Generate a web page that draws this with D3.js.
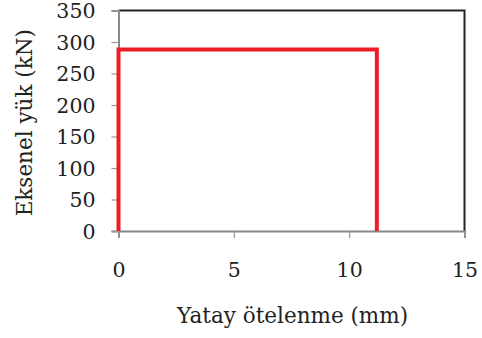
<!DOCTYPE html>
<html>
<head>
<meta charset="utf-8">
<script src="https://cdn.jsdelivr.net/npm/d3@7"></script>
<style>
  body { margin: 0; background: #fff; }
  svg text { font-family: "DejaVu Serif", serif; fill: #222; }
</style>
</head>
<body>
<div id="chart"></div>
<script>
(function() {
	// displacement (mm) and axial load (kN) along the curve
	var disp = [0, 0, 11.2, 11.2];
	var load = [0, 288, 288, 0];
	var xTicks = [0, 5, 10, 15];
	var yTicks = [0, 50, 100, 150, 200, 250, 300, 350];

	var width = 482, height = 338;
	var margin = { top: 10.5, left: 118.5, right: 17.5, bottom: 107 };

	var svg = d3.select("#chart")
		.append("svg")
		.attr("width", width)
		.attr("height", height);

	var xScale = d3.scaleLinear()
		.domain([0, 15])
		.range([margin.left, width - margin.right]);

	var yScale = d3.scaleLinear()
		.domain([0, 350])
		.range([height - margin.bottom, margin.top]);

	// plot frame: top and right black
	svg.append("path")
		.attr("d", "M" + xScale(0) + "," + yScale(350) + "H" + xScale(15) + "V" + yScale(0))
		.attr("fill", "none")
		.attr("stroke", "#222")
		.attr("stroke-width", 2);

	var yAxis = svg.append("g")
		.attr("transform", "translate(" + xScale(0) + ",0)")
		.call(d3.axisLeft(yScale).tickValues(yTicks).tickSize(7).tickPadding(16));

	var xAxis = svg.append("g")
		.attr("transform", "translate(0," + yScale(0) + ")")
		.call(d3.axisBottom(xScale).tickValues(xTicks).tickSize(7).tickPadding(24));

	[xAxis, yAxis].forEach(function(ax) {
		ax.select(".domain").attr("stroke", "#888").attr("stroke-width", 2);
		ax.selectAll(".tick line").attr("stroke", "#999").attr("stroke-width", 1.2);
		ax.selectAll("text")
			.attr("font-family", "DejaVu Serif, serif")
			.attr("font-size", 20.5)
			.attr("fill", "#222");
	});
	yAxis.selectAll("text").attr("dy", "0.36em");

	var line = d3.line()
		.x(function(d, i) { return xScale(disp[i]); })
		.y(function(d, i) { return yScale(load[i]); });

	svg.append("path")
		.datum(load)
		.attr("d", line)
		.attr("fill", "none")
		.attr("stroke", "#ee1c25")
		.attr("stroke-width", 4)
		.attr("stroke-linejoin", "miter");

	svg.append("text")
		.attr("x", (xScale(0) + xScale(15)) / 2 + 1)
		.attr("y", 323)
		.attr("text-anchor", "middle")
		.attr("font-size", 21.5)
		.text("Yatay ötelenme (mm)");

	svg.append("text")
		.attr("transform", "translate(32," + (yScale(175) + 2) + ") rotate(-90)")
		.attr("text-anchor", "middle")
		.attr("font-size", 21.5)
		.text("Eksenel yük (kN)");
})();
</script>
</body>
</html>
